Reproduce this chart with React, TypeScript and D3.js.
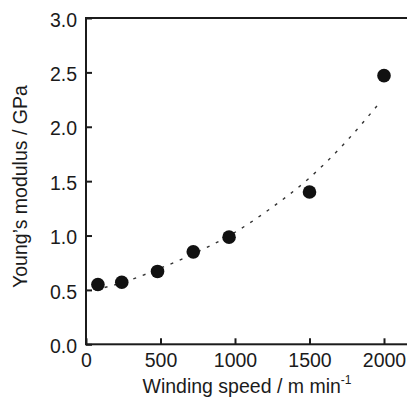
import React, { useEffect, useRef } from 'react';
import * as d3 from 'd3';

// measured points
const speeds = [80, 240, 480, 720, 960, 1500, 2000];
const modulus = [0.55, 0.57, 0.67, 0.85, 0.985, 1.4, 2.47];

// dotted fit curve
const fitSpeeds = [60, 250, 500, 750, 1000, 1250, 1500, 1750, 1970];
const fitModulus = [0.5, 0.57, 0.7, 0.85, 1.03, 1.26, 1.53, 1.87, 2.22];

const xTicks = [0, 500, 1000, 1500, 2000];
const yTicks = [0, 0.5, 1, 1.5, 2, 2.5, 3];

const width = 407;
const height = 402;

export default function App() {
  const ref = useRef<SVGSVGElement>(null);

  useEffect(() => {
    const svg = d3.select(ref.current);
    svg.selectAll('*').remove();

    const margin = { top: 18, left: 86, bottom: 344.3 };
    const x = d3.scaleLinear().domain([0, 2200]).range([margin.left, margin.left + 2200 * 0.149]);
    const y = d3.scaleLinear().domain([0, 3]).range([margin.bottom, margin.top]);

    const font = '"Liberation Sans", Arial, sans-serif';
    const ink = '#1b1b1b';

    // frame (right side falls outside the picture)
    svg
      .append('rect')
      .attr('x', x(0))
      .attr('y', y(3))
      .attr('width', x(2200) - x(0))
      .attr('height', y(0) - y(3))
      .attr('fill', 'none')
      .attr('stroke', ink)
      .attr('stroke-width', 2);

    // y axis
    const yAxis = d3
      .axisLeft(y)
      .tickValues(yTicks)
      .tickSize(-6)
      .tickPadding(9)
      .tickFormat(d => d3.format('.1f')(d as number));
    const yg = svg.append('g').attr('transform', `translate(${x(0)},0)`).call(yAxis);
    yg.select('.domain').remove();
    yg.selectAll('line').attr('stroke', ink).attr('stroke-width', 2);
    yg.selectAll('text')
      .attr('font-family', font)
      .attr('font-size', 19.5)
      .attr('fill', ink)
      .attr('dy', '0.42em');

    // x axis
    const xAxis = d3
      .axisBottom(x)
      .tickValues(xTicks)
      .tickSize(-6)
      .tickPadding(9)
      .tickFormat(d3.format('d'));
    const xg = svg.append('g').attr('transform', `translate(0,${y(0)})`).call(xAxis);
    xg.select('.domain').remove();
    xg.selectAll('line').attr('stroke', ink).attr('stroke-width', 2);
    xg.selectAll('text')
      .attr('font-family', font)
      .attr('font-size', 19.5)
      .attr('fill', ink)
      .attr('dy', '0.71em');

    // fit line
    const line = d3
      .line<number>()
      .x((d, i) => x(fitSpeeds[i]))
      .y(d => y(d))
      .curve(d3.curveMonotoneX);
    svg
      .append('path')
      .attr('d', line(fitModulus))
      .attr('fill', 'none')
      .attr('stroke', '#333')
      .attr('stroke-width', 1.4)
      .attr('stroke-dasharray', '3,7');

    // points
    svg
      .selectAll('circle')
      .data(modulus)
      .enter()
      .append('circle')
      .attr('cx', (d, i) => x(speeds[i]))
      .attr('cy', d => y(d))
      .attr('r', 6.8)
      .attr('fill', '#111');

    // axis titles
    const xt = svg
      .append('text')
      .attr('x', 247)
      .attr('y', 393)
      .attr('text-anchor', 'middle')
      .attr('font-family', font)
      .attr('font-size', 19.5)
      .attr('fill', ink)
      .text('Winding speed / m min');
    xt.append('tspan')
      .attr('font-size', 12)
      .attr('dy', -9)
      .text('-1');

    svg
      .append('text')
      .attr('transform', `translate(27,${y(1.45)}) rotate(-90)`)
      .attr('text-anchor', 'middle')
      .attr('font-family', font)
      .attr('font-size', 19.5)
      .attr('fill', ink)
      .text('Young\u2019s modulus / GPa');
  }, []);

  return (
    <svg
      ref={ref}
      width={width}
      height={height}
      style={{ position: 'absolute', left: 0, top: 0, background: '#fff' }}
    />
  );
}
